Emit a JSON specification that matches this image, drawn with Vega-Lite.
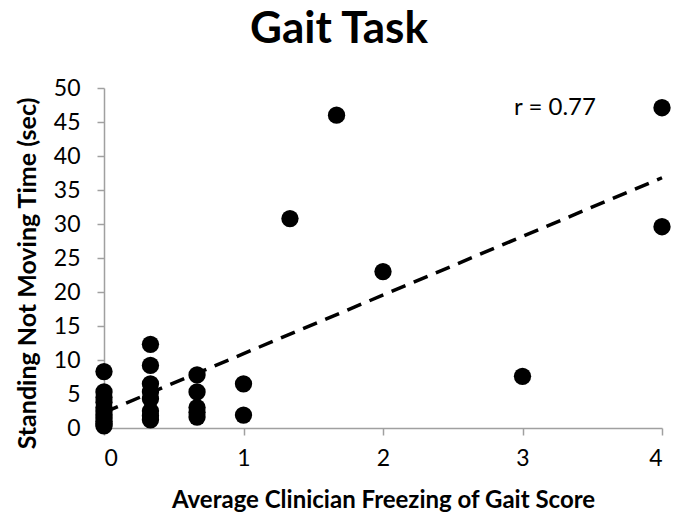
{
  "$schema": "https://vega.github.io/schema/vega-lite/v6.json",
  "width": 558,
  "height": 340,
  "autosize": {"type": "none"},
  "padding": {"left": 104, "top": 88, "right": 17, "bottom": 91},
  "background": "white",
  "title": {
    "text": "Gait Task",
    "font": "Lato",
    "fontSize": 44,
    "fontWeight": "bold",
    "color": "black",
    "anchor": "middle",
    "dx": -44,
    "offset": 25
  },
  "config": {"view": {"stroke": null}},
  "datasets": {
    "points": [
      {"score": 0, "time": 8.3},
      {"score": 0, "time": 5.3},
      {"score": 0, "time": 4.5},
      {"score": 0, "time": 3.8},
      {"score": 0, "time": 3.0},
      {"score": 0, "time": 2.5},
      {"score": 0, "time": 2.0},
      {"score": 0, "time": 1.5},
      {"score": 0, "time": 1.0},
      {"score": 0, "time": 0.6},
      {"score": 0, "time": 0.3},
      {"score": 0.333, "time": 12.3},
      {"score": 0.333, "time": 9.2},
      {"score": 0.333, "time": 6.5},
      {"score": 0.333, "time": 5.3},
      {"score": 0.333, "time": 4.3},
      {"score": 0.333, "time": 2.5},
      {"score": 0.333, "time": 1.8},
      {"score": 0.333, "time": 1.2},
      {"score": 0.667, "time": 7.8},
      {"score": 0.667, "time": 5.3},
      {"score": 0.667, "time": 3.0},
      {"score": 0.667, "time": 2.3},
      {"score": 0.667, "time": 1.6},
      {"score": 1, "time": 6.5},
      {"score": 1, "time": 1.9},
      {"score": 1.333, "time": 30.8},
      {"score": 1.667, "time": 46.0},
      {"score": 2, "time": 23.0},
      {"score": 3, "time": 7.6},
      {"score": 4, "time": 47.1},
      {"score": 4, "time": 29.6}
    ],
    "trend": [
      {"score": 0, "time": 2.3},
      {"score": 4, "time": 36.8}
    ],
    "note": [
      {"score": 3.233, "time": 47.0, "label": "r = 0.77"}
    ]
  },
  "encoding": {
    "x": {
      "field": "score",
      "type": "quantitative",
      "scale": {"domain": [0, 4], "nice": false, "zero": false},
      "axis": {
        "values": [0, 1, 2, 3, 4],
        "format": "d",
        "title": "Average Clinician Freezing of Gait Score",
        "titleY": 72,
        "titleBaseline": "middle",
        "labelPadding": 12,
        "labelFont": "Lato",
        "titleFont": "Lato",
        "labelFontSize": 23,
        "titleFontSize": 24,
        "titleFontWeight": "bold",
        "labelColor": "black",
        "titleColor": "black",
        "domainColor": "#a0a0a0",
        "tickColor": "#a0a0a0",
        "domainWidth": 1.5,
        "tickWidth": 1.5,
        "tickSize": 7,
        "grid": false
      }
    },
    "y": {
      "field": "time",
      "type": "quantitative",
      "scale": {"domain": [0, 50], "nice": false},
      "axis": {
        "values": [0, 5, 10, 15, 20, 25, 30, 35, 40, 45, 50],
        "format": "d",
        "title": "Standing Not Moving Time (sec)",
        "titleX": -77,
        "titleY": 185,
        "titleAlign": "center",
        "titleBaseline": "middle",
        "titleAngle": -90,
        "labelPadding": 17,
        "labelFont": "Lato",
        "titleFont": "Lato",
        "labelFontSize": 23,
        "titleFontSize": 25,
        "titleFontWeight": "bold",
        "labelColor": "black",
        "titleColor": "black",
        "domainColor": "#a0a0a0",
        "tickColor": "#a0a0a0",
        "domainWidth": 1.5,
        "tickWidth": 1.5,
        "tickSize": 7,
        "grid": false
      }
    }
  },
  "layer": [
    {
      "data": {"name": "trend"},
      "mark": {"type": "line", "color": "black", "strokeWidth": 3.5, "strokeDash": [15, 9]}
    },
    {
      "data": {"name": "points"},
      "mark": {"type": "circle", "color": "black", "opacity": 1, "size": 300}
    },
    {
      "data": {"name": "note"},
      "mark": {"type": "text", "font": "Lato", "fontSize": 24, "color": "black", "align": "center", "baseline": "middle"},
      "encoding": {"text": {"field": "label"}}
    }
  ]
}
